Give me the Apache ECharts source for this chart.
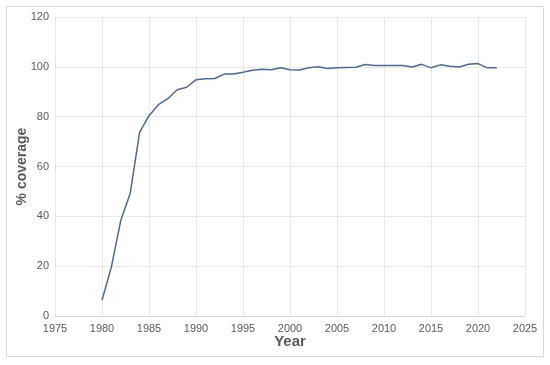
<!DOCTYPE html>
<html>
<head>
<meta charset="utf-8">
<script src="https://cdn.jsdelivr.net/npm/echarts@6/dist/echarts.min.js"></script>
<style>html,body{margin:0;padding:0;background:#fff;}#c{width:550px;height:365px;}</style>
</head>
<body>
<div id="c"></div>
<script>
const years = [1980,1981,1982,1983,1984,1985,1986,1987,1988,1989,1990,1991,1992,1993,1994,1995,1996,1997,1998,1999,2000,2001,2002,2003,2004,2005,2006,2007,2008,2009,2010,2011,2012,2013,2014,2015,2016,2017,2018,2019,2020,2021,2022];
const coverage = [6.3,19.7,38.4,49.2,73.7,80.4,84.8,87.2,90.8,91.8,94.8,95.2,95.3,97.1,97.1,97.8,98.6,99.0,98.8,99.6,98.8,98.7,99.6,100.0,99.3,99.6,99.7,99.8,100.9,100.5,100.5,100.5,100.5,99.9,101.0,99.6,100.8,100.2,99.9,101.0,101.3,99.6,99.6];
const xTicks = {min:1975, max:2025, interval:5};
const yTicks = {min:0, max:120, interval:20};

const chart = echarts.init(document.getElementById('c'), null, {renderer:'canvas'});
chart.setOption({
  backgroundColor:'#ffffff',
  animation:false,
  graphic:[{type:'rect', shape:{x:6.5,y:6.5,width:537,height:350}, style:{fill:'none',stroke:'#d9d9d9',lineWidth:1}, silent:true}],
  grid:{left:55,right:25,top:17,bottom:49,containLabel:false},
  xAxis:{
    type:'value', min:xTicks.min, max:xTicks.max, interval:xTicks.interval,
    name:'Year', nameLocation:'middle', nameGap:18, nameMoveOverlap:false,
    nameTextStyle:{fontFamily:'Liberation Sans',fontSize:15,fontWeight:'bold',color:'#595959'},
    axisLine:{show:true,lineStyle:{color:'#d9d9d9',width:1}},
    axisTick:{show:false},
    axisLabel:{fontFamily:'Liberation Sans',fontSize:11,color:'#595959',margin:7,formatter:v=>String(v)},
    splitLine:{show:true,lineStyle:{color:'#e8e8e8',width:1}}
  },
  yAxis:{
    type:'value', min:yTicks.min, max:yTicks.max, interval:yTicks.interval,
    name:'% coverage', nameLocation:'middle', nameGap:26, nameRotate:90, nameMoveOverlap:false,
    nameTextStyle:{fontFamily:'Liberation Sans',fontSize:14,fontWeight:'bold',color:'#595959'},
    axisLine:{show:true,lineStyle:{color:'#e8e8e8',width:1}},
    axisTick:{show:false},
    axisLabel:{fontFamily:'Liberation Sans',fontSize:11,color:'#595959',margin:6,formatter:v=>String(v)},
    splitLine:{show:true,lineStyle:{color:'#e8e8e8',width:1}}
  },
  series:[{
    type:'line',
    data:years.map((y,i)=>[y,coverage[i]]),
    showSymbol:false,
    lineStyle:{color:'#4f6a8c',width:1.5},
    itemStyle:{color:'#4f6a8c'}
  }]
});
</script>
</body>
</html>
